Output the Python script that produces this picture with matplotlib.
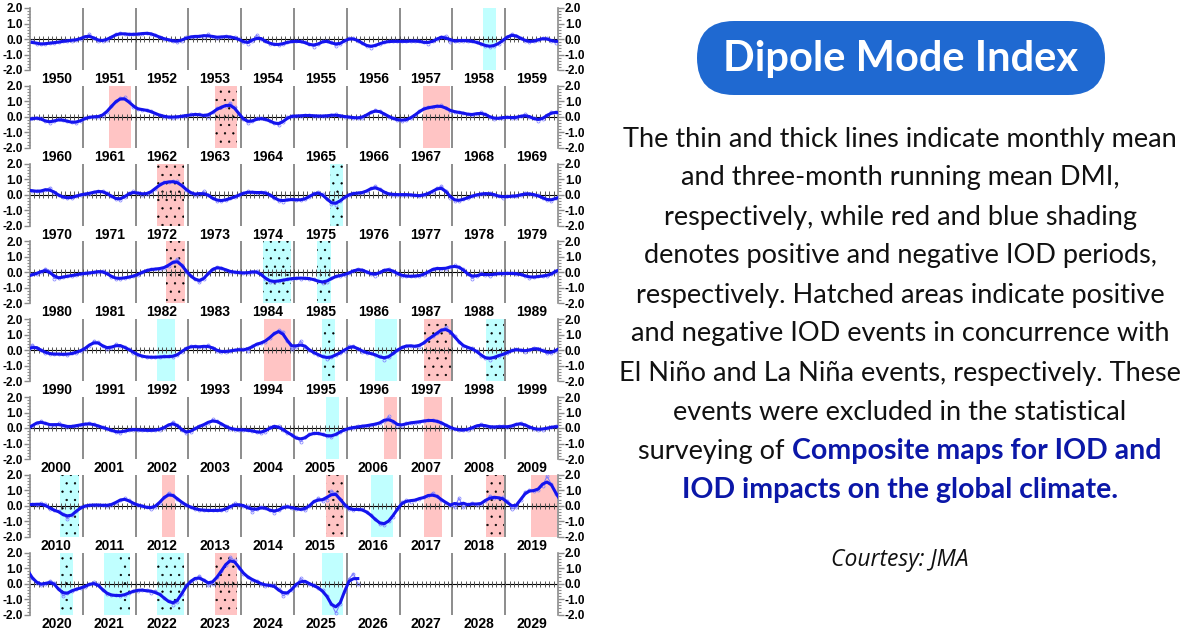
import numpy as np
import pandas as pd
import matplotlib
matplotlib.use("Agg")
import matplotlib.pyplot as plt
from matplotlib.patches import FancyBboxPatch
from matplotlib.ticker import MultipleLocator

W, H = 1200, 630

# ---------------- DATA: monthly DMI ----------------
dmi_1950s = [
    -0.15, -0.3, -0.35, -0.3, -0.25, -0.25, -0.2, -0.15, -0.1, -0.1, -0.05, 0.0,
    0.15, 0.3, 0.05, -0.15, -0.1, -0.05, 0.1, 0.3, 0.4, 0.3, 0.3, 0.3,
    0.3, 0.35, 0.4, 0.35, 0.25, 0.1, 0.0, -0.05, -0.1, -0.2, -0.1, 0.1,
    0.15, 0.15, 0.2, 0.15, 0.3, 0.15, 0.05, 0.15, 0.2, 0.1, 0.1, 0.0,
    -0.2, -0.3, -0.15, 0.25, 0.0, -0.15, -0.3, -0.35, -0.4, -0.3, -0.2, -0.15,
    -0.15, -0.15, -0.2, -0.35, -0.5, -0.3, -0.15, -0.1, -0.2, -0.45, -0.3, -0.1,
    0.05, 0.05, -0.1, -0.25, -0.45, -0.55, -0.4, -0.3, -0.2, -0.15, -0.15, -0.15,
    -0.15, -0.15, -0.15, -0.1, -0.15, -0.2, -0.3, -0.15, 0.0, 0.15, 0.2, -0.2,
    -0.1, -0.1, -0.1, -0.1, -0.15, -0.2, -0.3, -0.45, -0.5, -0.45, -0.3, -0.1,
    0.15, 0.35, 0.2, 0.05, -0.1, -0.2, -0.15, -0.05, 0.05, 0.05, -0.1, -0.25,
]
dmi_1960s = [
    -0.1, -0.05, -0.1, -0.3, -0.4, -0.25, -0.15, -0.2, -0.3, -0.35, -0.4, -0.25,
    -0.1, 0.0, 0.0, 0.0, 0.05, 0.3, 0.7, 1.0, 1.2, 1.25, 1.0, 0.6,
    0.5, 0.45, 0.45, 0.35, 0.2, 0.1, 0.0, 0.0, -0.05, 0.0, 0.05, 0.05,
    0.15, 0.15, 0.15, 0.1, 0.0, 0.3, 0.55, 0.6, 0.7, 0.9, 0.6, 0.15,
    -0.15, -0.4, -0.3, -0.1, -0.1, -0.15, -0.25, -0.4, -0.55, -0.35, 0.0, 0.05,
    0.05, 0.05, 0.1, 0.1, 0.05, 0.05, 0.05, 0.05, 0.1, 0.15, 0.05, 0.0,
    0.0, -0.05, -0.1, -0.05, 0.1, 0.3, 0.45, 0.35, 0.2, 0.0, -0.1, -0.2,
    -0.25, -0.2, -0.1, 0.1, 0.35, 0.55, 0.6, 0.6, 0.7, 0.75, 0.55, 0.4,
    0.3, 0.3, 0.25, 0.15, 0.1, 0.2, 0.3, 0.15, 0.0, -0.15, -0.1, -0.05,
    0.0, -0.05, -0.1, 0.05, 0.15, 0.0, -0.1, -0.25, -0.15, 0.1, 0.3, 0.3,
]
dmi_1970s = [
    0.25, 0.2, 0.2, 0.3, 0.45, 0.1, -0.05, -0.15, -0.25, -0.2, -0.1, 0.0,
    0.05, 0.05, 0.15, 0.25, 0.2, 0.1, -0.1, -0.3, -0.35, -0.15, 0.1, 0.2,
    0.1, 0.0, 0.05, 0.15, 0.35, 0.7, 0.8, 0.8, 0.85, 0.85, 0.6, 0.3,
    0.1, 0.0, 0.0, 0.2, -0.05, -0.25, -0.4, -0.4, -0.35, -0.25, -0.15, -0.05,
    0.1, 0.2, 0.15, 0.1, 0.15, 0.15, 0.0, -0.2, -0.4, -0.45, -0.3, -0.3,
    -0.35, -0.35, -0.3, -0.15, 0.1, 0.15, 0.05, -0.3, -0.6, -0.65, -0.4, -0.15,
    0.0, 0.1, 0.1, 0.1, 0.2, 0.4, 0.55, 0.35, 0.1, 0.05, 0.0, 0.0,
    0.0, 0.0, 0.0, -0.05, -0.1, -0.05, 0.1, 0.15, 0.4, 0.55, 0.25, -0.2,
    -0.4, -0.4, -0.3, -0.2, -0.1, 0.0, 0.05, 0.05, 0.1, 0.0, -0.1, -0.2,
    -0.1, -0.1, -0.1, -0.05, 0.1, 0.05, 0.0, -0.05, -0.2, -0.35, -0.4, -0.25,
]
dmi_1980s = [
    -0.1, -0.1, 0.0, 0.25, 0.1, -0.4, -0.35, -0.3, -0.25, -0.2, -0.15, -0.1,
    -0.05, -0.05, 0.0, 0.05, 0.1, -0.05, -0.3, -0.4, -0.4, -0.35, -0.3, -0.25,
    -0.15, 0.0, 0.15, 0.2, 0.2, 0.25, 0.3, 0.4, 0.7, 0.85, 0.5, 0.0,
    -0.2, -0.45, -0.65, -0.45, -0.05, 0.25, 0.35, 0.3, 0.15, 0.05, 0.0, 0.0,
    -0.05, -0.05, 0.05, 0.1, -0.1, -0.4, -0.6, -0.6, -0.55, -0.5, -0.45, -0.4,
    -0.35, -0.4, -0.35, -0.4, -0.45, -0.55, -0.7, -0.6, -0.35, -0.25, -0.2, -0.15,
    -0.05, 0.1, 0.25, 0.15, 0.05, -0.1, -0.2, 0.0, 0.15, 0.25, 0.1, -0.1,
    -0.2, -0.25, -0.25, -0.25, -0.2, -0.15, 0.0, 0.25, 0.3, 0.2, 0.25, 0.35,
    0.45, 0.35, 0.2, -0.1, -0.4, -0.2, -0.05, -0.15, -0.2, -0.1, -0.05, -0.1,
    -0.05, -0.05, -0.1, -0.1, -0.2, -0.35, -0.3, -0.25, -0.25, -0.2, -0.1, 0.0,
]
dmi_1990s = [
    0.35, 0.15, 0.0, -0.15, -0.25, -0.25, -0.25, -0.25, -0.3, -0.2, -0.15, -0.05,
    0.1, 0.3, 0.6, 0.5, 0.3, 0.05, 0.15, 0.4, 0.3, 0.2, 0.05, -0.15,
    -0.3, -0.4, -0.45, -0.45, -0.45, -0.45, -0.4, -0.4, -0.45, -0.3, -0.1, 0.15,
    0.25, 0.25, 0.2, 0.2, 0.35, 0.15, -0.05, -0.1, -0.1, -0.05, 0.0, 0.05,
    0.05, -0.05, 0.3, 0.4, 0.45, 0.55, 0.8, 1.1, 1.3, 1.2, 0.6, 0.05,
    0.2, 0.6, 0.2, 0.0, -0.15, -0.3, -0.4, -0.55, -0.45, -0.3, -0.15, -0.05,
    0.25, 0.3, 0.1, -0.1, -0.15, -0.2, -0.3, -0.4, -0.6, -0.45, -0.2, 0.0,
    0.2, 0.3, 0.3, 0.25, 0.2, 0.5, 0.7, 0.9, 1.1, 1.3, 1.5, 1.2,
    0.9, 0.5, 0.25, 0.15, 0.15, -0.05, -0.35, -0.5, -0.6, -0.45, -0.35, -0.25,
    -0.2, 0.0, 0.1, 0.0, -0.1, 0.0, 0.15, 0.1, 0.0, -0.2, -0.15, -0.05,
]
dmi_2000s = [
    0.15, 0.35, 0.45, 0.3, 0.15, 0.2, 0.3, 0.15, 0.05, 0.1, 0.15, 0.2,
    0.25, 0.3, 0.25, 0.1, 0.05, -0.05, -0.15, -0.25, -0.3, -0.2, -0.1, -0.1,
    -0.1, -0.15, -0.15, -0.15, -0.15, -0.1, 0.0, 0.2, 0.4, 0.2, -0.15, -0.35,
    -0.25, 0.0, 0.1, 0.2, 0.35, 0.55, 0.45, 0.25, 0.1, -0.05, -0.1, -0.1,
    -0.15, -0.1, -0.2, -0.25, -0.3, -0.25, 0.05, 0.15, 0.1, -0.1, -0.3, -0.45,
    -0.6, -0.9, -0.6, -0.4, -0.3, -0.35, -0.4, -0.5, -0.6, -0.4, -0.25, -0.1,
    0.0, 0.0, 0.1, 0.1, 0.15, 0.2, 0.25, 0.3, 0.45, 0.75, 0.4, 0.15,
    0.15, 0.3, 0.35, 0.35, 0.4, 0.45, 0.5, 0.5, 0.45, 0.35, 0.2, 0.0,
    -0.05, -0.15, -0.15, -0.1, 0.0, 0.15, 0.25, 0.15, 0.05, 0.05, 0.1, 0.1,
    0.05, 0.1, 0.25, 0.35, 0.2, 0.05, -0.05, -0.1, -0.1, 0.0, 0.05, 0.1,
]
dmi_2010s = [
    0.1, 0.05, 0.15, 0.1, -0.2, -0.3, -0.35, -0.5, -0.85, -0.6, -0.35, -0.1,
    0.0, 0.05, 0.05, 0.05, 0.05, 0.0, 0.05, 0.2, 0.4, 0.5, 0.35, 0.1,
    0.05, 0.0, -0.1, -0.2, -0.05, 0.2, 0.55, 0.85, 0.7, 0.45, 0.2, 0.05,
    -0.1, -0.2, -0.25, -0.3, -0.3, -0.3, -0.3, -0.3, -0.25, -0.05, 0.15, 0.05,
    0.0, 0.0, -0.4, -0.2, -0.05, -0.15, -0.25, -0.45, -0.3, -0.05, 0.0, -0.15,
    -0.2, -0.2, -0.3, 0.0, 0.3, 0.5, 0.3, 0.4, 0.95, 0.8, 0.45, 0.0,
    -0.2, -0.3, -0.2, -0.2, -0.4, -0.6, -0.85, -1.2, -1.25, -1.0, -0.7, -0.2,
    0.25, 0.35, 0.25, 0.4, 0.45, 0.55, 0.6, 0.85, 0.6, 0.4, 0.2, 0.05,
    -0.1, 0.5, -0.1, 0.1, 0.2, 0.05, 0.1, 0.3, 0.65, 0.5, 0.5, 0.55,
    0.3, -0.2, -0.1, 0.4, 0.9, 1.0, 0.95, 1.0, 1.3, 1.9, 1.4, 0.75,
]
dmi_2020s = [
    0.35, 0.05, -0.1, -0.05, 0.2, 0.05, -0.35, -0.8, -0.6, -0.45, -0.35, -0.3,
    -0.2, -0.05, 0.1, -0.05, -0.4, -0.7, -0.75, -0.75, -0.8, -0.75, -0.6, -0.45,
    -0.45, -0.4, -0.4, -0.6, -0.45, -0.7, -0.95, -1.15, -1.35, -1.2, -0.65, -0.1,
    0.2, 0.3, 0.5, 0.25, -0.1, 0.0, 0.45, 0.8, 1.2, 1.7, 1.5, 1.0,
    0.65, 0.4, 0.25, 0.15, 0.0, -0.15, -0.1, -0.1, -0.35, -0.8, -0.6, -0.4,
    -0.1, 0.35, 0.1, 0.0, -0.1, -0.3, -0.4, -0.8, -1.3, -1.9, -1.3, -0.5,
    0.3, 0.65, 0.0,
]

decades = [1950, 1960, 1970, 1980, 1990, 2000, 2010, 2020]

# IOD periods: start, end (fractional year), sign (+1 positive / -1 negative),
# concurrent ENSO event (hatched)
event_start = [1958.58, 1961.50, 1963.50, 1967.45, 1972.40, 1975.68, 1982.58,
               1984.41, 1985.44, 1992.41, 1994.43, 1995.53, 1996.53, 1997.46,
               1998.64, 2005.60, 2006.70, 2007.46, 2010.56, 2012.50, 2015.60,
               2016.46, 2017.46, 2018.64, 2019.49, 2020.56, 2021.40, 2021.67,
               2022.41, 2023.50, 2025.53]
event_end = [1958.83, 1961.92, 1963.92, 1967.95, 1972.92, 1975.93, 1982.94,
             1984.94, 1985.70, 1992.75, 1994.94, 1995.78, 1996.95, 1997.97,
             1998.98, 2005.85, 2006.95, 2007.80, 2010.92, 2012.75, 2015.95,
             2016.87, 2017.80, 2018.98, 2019.98, 2020.82, 2021.67, 2021.90,
             2022.92, 2023.92, 2025.93]
event_sign = [-1, 1, 1, 1, 1, -1, 1, -1, -1, -1, 1, -1, -1, 1, -1, -1, 1, 1,
              -1, 1, 1, -1, 1, 1, 1, -1, -1, -1, -1, 1, -1]
event_enso = [0, 0, 1, 0, 1, 1, 1, 1, 1, 0, 0, 1, 0, 1, 1, 0, 0, 0, 1, 0, 1,
              0, 0, 1, 0, 1, 0, 1, 1, 1, 0]

y_ticks = [-2.0, -1.0, 0.0, 1.0, 2.0]

# ---------------- FIGURE ----------------
fig = plt.figure(figsize=(W / 100, H / 100), dpi=100)
fig.patch.set_facecolor("white")
plt.rcParams["hatch.linewidth"] = 0.4

vals = np.array(dmi_1950s + dmi_1960s + dmi_1970s + dmi_1980s + dmi_1990s
                + dmi_2000s + dmi_2010s + dmi_2020s)
t = 1950 + (np.arange(len(vals)) + 0.5) / 12.0
rm = pd.Series(vals).rolling(3, center=True, min_periods=2).mean().values

POS = "#ffc4c4"
NEG = "#c0ffff"
GRID = "#8c8c8c"

for k, dec in enumerate(decades):
    top = 8 + 77.8 * k
    bot = top + 62
    ax = fig.add_axes([30 / W, 1 - bot / H, 528 / W, 62 / H])
    ax.set_xlim(dec, dec + 10)
    ax.set_ylim(-2, 2)
    for s, e, sg, en in zip(event_start, event_end, event_sign, event_enso):
        if e > dec and s < dec + 10:
            ax.axvspan(s, e, facecolor=POS if sg > 0 else NEG,
                       edgecolor="black", linewidth=0,
                       hatch=".." if en else None, zorder=0)
    for yr in range(dec + 1, dec + 10):
        ax.axvline(yr, color=GRID, lw=1.4, zorder=1)
    ax.axhline(0, color="black", lw=0.8, zorder=2)
    ax.vlines(dec + np.arange(1, 120) / 12.0, -0.2, 0.2, color="#555555",
              lw=0.7, zorder=2)
    ax.plot(t, vals, color="#7c7cff", lw=0.8, marker="o", ms=2.2,
            mfc="none", mew=0.5, zorder=3)
    ax.plot(t, rm, color="#1414ee", lw=2.2, zorder=4)

    for sp in ("top", "bottom"):
        ax.spines[sp].set_visible(False)
    for sp in ("left", "right"):
        ax.spines[sp].set_color(GRID)
        ax.spines[sp].set_linewidth(1.2)
    ax.set_yticks(y_ticks)
    ax.set_yticklabels([f"{v:.1f}" for v in y_ticks], fontweight="bold",
                       fontsize=8.5, family="Liberation Sans")
    ax.yaxis.set_minor_locator(MultipleLocator(0.2))
    ax.tick_params(axis="y", which="both", left=True, right=True,
                   labelleft=True, labelright=True, direction="out",
                   color=GRID, pad=1)
    ax.tick_params(axis="y", which="major", length=4, width=1)
    ax.tick_params(axis="y", which="minor", length=2.5, width=0.8)
    years = np.arange(dec, dec + 10)
    ax.set_xticks(years + 0.5)
    ax.set_xticklabels([str(y) for y in years], fontweight="bold",
                       fontsize=10, family="Liberation Sans")
    ax.tick_params(axis="x", length=0, pad=1.5)

# ---------------- RIGHT TEXT PANEL ----------------
tx = fig.add_axes([0, 0, 1, 1])
tx.set_xlim(0, W)
tx.set_ylim(H, 0)
tx.axis("off")
tx.patch.set_alpha(0)

pill = FancyBboxPatch((697, 21), 408, 74,
                      boxstyle="round,pad=0,rounding_size=37",
                      facecolor="#1f69d1", edgecolor="none")
tx.add_patch(pill)
tx.text(901, 59, "Dipole Mode Index", ha="center", va="center",
        color="white", fontsize=30, fontweight="bold", family="Lato")

body = [
    "The thin and thick lines indicate monthly mean",
    "and three-month running mean DMI,",
    "respectively, while red and blue shading",
    "denotes positive and negative IOD periods,",
    "respectively. Hatched areas indicate positive",
    "and negative IOD events in concurrence with",
    "El Niño and La Niña events, respectively. These",
    "events were excluded in the statistical",
]
FS = 19.5
FSB = 20.5
y0, dy = 139, 39
for i, line in enumerate(body):
    tx.text(900, y0 + i * dy, line, ha="center", va="center",
            fontsize=FS, family="Lato", color="#111111")

r = fig.canvas.get_renderer()
y9 = y0 + 8 * dy
t1 = tx.text(0, y9, "surveying of ", ha="left", va="center",
             fontsize=FS, family="Lato", color="#111111")
t2 = tx.text(0, y9, "Composite maps for IOD and", ha="left", va="center",
             fontsize=FSB, family="Lato", fontweight="bold",
             color="#0b17a8")
w1 = t1.get_window_extent(r).width
w2 = t2.get_window_extent(r).width
x_start = 900 - (w1 + w2) / 2
t1.set_x(x_start)
t2.set_x(x_start + w1)
tx.text(900, y0 + 9 * dy, "IOD impacts on the global climate.", ha="center",
        va="center", fontsize=FSB, family="Lato", fontweight="bold",
        color="#0b17a8")

tx.text(900, 560, "Courtesy: JMA", ha="center", va="center", fontsize=16.5,
        style="italic", family="Open Sans", color="#111111")

fig.savefig("out.png", dpi=100)
